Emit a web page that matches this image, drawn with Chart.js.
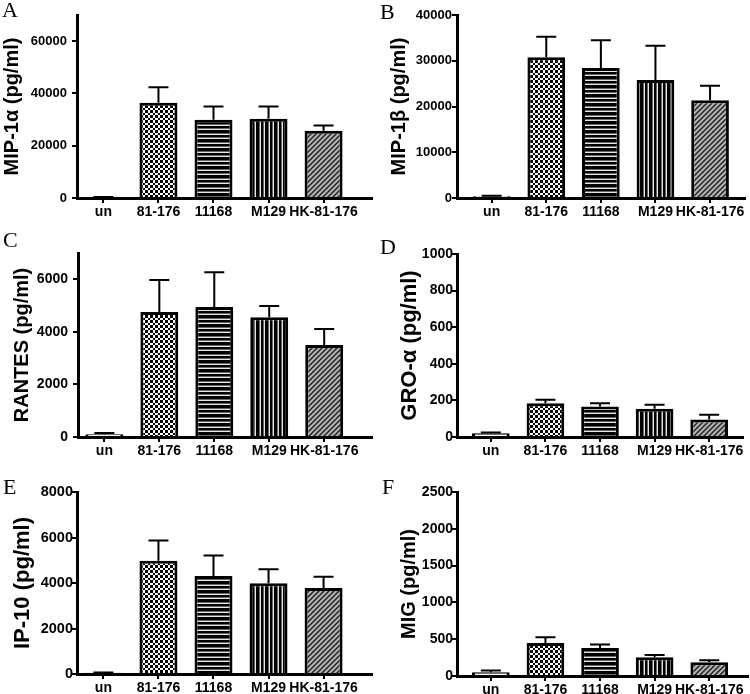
<!DOCTYPE html>
<html>
<head>
<meta charset="utf-8">
<script src="https://cdn.jsdelivr.net/npm/chart.js@4.4.0/dist/chart.umd.min.js"></script>
<style>
  html, body { margin: 0; padding: 0; background: #fff; }
  #fig { position: relative; width: 750px; height: 694px; overflow: hidden; }
  #fig canvas { position: absolute; }
  .letter { position: absolute; font-family: "Liberation Serif", "Times New Roman", serif; font-size: 22px; line-height: 1; color: #000; }
</style>
</head>
<body>
<div id="fig">
  <canvas id="cA"></canvas>
  <canvas id="cB"></canvas>
  <canvas id="cC"></canvas>
  <canvas id="cD"></canvas>
  <canvas id="cE"></canvas>
  <canvas id="cF"></canvas>
  <div class="letter" style="left:2px;top:-1px">A</div>
  <div class="letter" style="left:380px;top:1px">B</div>
  <div class="letter" style="left:3px;top:229px">C</div>
  <div class="letter" style="left:380px;top:236px">D</div>
  <div class="letter" style="left:3px;top:476px">E</div>
  <div class="letter" style="left:382px;top:476px">F</div>
</div>
<script>
// --- data (means and upper error, pg/ml) ---
const categories = ['un', '81-176', '11168', 'M129', 'HK-81-176'];

const mip1aMean = [300, 36450, 29960, 30340, 25750];
const mip1aErr  = [100, 5950, 5080, 4700, 2030];
const mip1aTicks = [0, 20000, 40000, 60000];

const mip1bMean = [400, 30740, 28400, 25770, 21390];
const mip1bErr  = [100, 4520, 6060, 7510, 3130];
const mip1bTicks = [0, 10000, 20000, 30000, 40000];

const rantesMean = [100, 4760, 4950, 4560, 3500];
const rantesErr  = [50, 1210, 1320, 420, 610];
const rantesTicks = [0, 2000, 4000, 6000];

const groaMean = [20, 185, 167, 155, 95];
const groaErr  = [5, 19, 18, 21, 27];
const groaTicks = [0, 200, 400, 600, 800, 1000];

const ip10Mean = [50, 4980, 4310, 3990, 3780];
const ip10Err  = [20, 890, 900, 610, 500];
const ip10Ticks = [0, 2000, 4000, 6000, 8000];

const migMean = [50, 450, 382, 255, 186];
const migErr  = [25, 77, 45, 31, 28];
const migTicks = [0, 500, 1000, 1500, 2000, 2500];

Chart.defaults.font.family = '"Liberation Sans", Arial, sans-serif';
Chart.defaults.color = '#000';

// --- fill patterns, one per strain ---
function makePattern(w, h, draw) {
    const c = document.createElement('canvas');
    c.width = w; c.height = h;
    const g = c.getContext('2d');
    draw(g);
    return g.createPattern(c, 'repeat');
}

const checker = makePattern(10, 10, g => {
    g.fillStyle = '#fff'; g.fillRect(0, 0, 10, 10);
    g.fillStyle = '#000';
    const edges = [0, 3, 5, 8, 10];
    for (let r = 0; r < 4; r++) {
        for (let c = 0; c < 4; c++) {
            if ((r + c) % 2 === 0) g.fillRect(edges[c], edges[r], edges[c + 1] - edges[c], edges[r + 1] - edges[r]);
        }
    }
});
const stripeRows = ['#000', '#000', '#666', '#e6e6e6', '#000', '#000', '#000', '#666', '#e6e6e6'];
const hStripes = makePattern(1, 9, g => {
    stripeRows.forEach((col, i) => { g.fillStyle = col; g.fillRect(0, i, 1, 1); });
});
const vStripes = makePattern(9, 1, g => {
    stripeRows.forEach((col, i) => { g.fillStyle = col; g.fillRect(i, 0, 1, 1); });
});
const diagonal = makePattern(5, 5, g => {
    g.fillStyle = '#b4b4b4'; g.fillRect(0, 0, 5, 5);
    g.strokeStyle = '#222'; g.lineWidth = 1.5;
    g.beginPath();
    g.moveTo(0, 5); g.lineTo(5, 0);
    g.moveTo(-1, 1); g.lineTo(1, -1);
    g.moveTo(4, 6); g.lineTo(6, 4);
    g.stroke();
});
const fills = ['#fff', checker, hStripes, vStripes, diagonal];

// error bars: upward only, with a cap
const errorBars = {
    id: 'errorBars',
    afterDatasetsDraw(chart) {
        const { ctx } = chart;
        const yScale = chart.scales.y;
        const ds = chart.data.datasets[0];
        const meta = chart.getDatasetMeta(0);
        ctx.save();
        ctx.strokeStyle = '#000';
        ctx.lineWidth = 2;
        meta.data.forEach((bar, i) => {
            const top = yScale.getPixelForValue(ds.data[i].y + ds.err[i]);
            ctx.beginPath();
            ctx.moveTo(bar.x, bar.y);
            ctx.lineTo(bar.x, top);
            ctx.moveTo(bar.x - 10, top);
            ctx.lineTo(bar.x + 10, top);
            ctx.stroke();
        });
        ctx.restore();
    }
};

function drawPanel(id, pos, title, means, errs, yTicks) {
    const canvas = document.getElementById(id);
    canvas.width = 375;
    canvas.height = pos.h;
    canvas.style.left = pos.left + 'px';
    canvas.style.top = pos.top + 'px';

    new Chart(canvas, {
        type: 'bar',
        data: {
            datasets: [{
                data: means.map((v, i) => ({ x: i, y: v })),
                err: errs,
                backgroundColor: fills,
                borderColor: '#000',
                borderWidth: 3,
                categoryPercentage: 1,
                barPercentage: 0.69
            }]
        },
        options: {
            responsive: false,
            animation: false,
            layout: { padding: { top: pos.plotTop, right: 375 - pos.axisEnd, left: 0, bottom: 0 } },
            plugins: { legend: { display: false }, tooltip: { enabled: false } },
            scales: {
                x: {
                    type: 'linear',
                    min: pos.xMin,
                    max: pos.xMax,
                    offset: false,
                    afterBuildTicks: s => { s.ticks = categories.map((c, i) => ({ value: i })); },
                    afterFit: s => { s.height = pos.h - pos.base; },
                    border: { display: true, color: '#000', width: 3 },
                    grid: { drawOnChartArea: false, offset: false, tickLength: 5, color: '#000', lineWidth: 2 },
                    ticks: {
                        autoSkip: false, maxRotation: 0, minRotation: 0, padding: 1,
                        font: { size: 14, weight: 'bold' },
                        callback: v => categories[v]
                    }
                },
                y: {
                    min: 0,
                    max: pos.yMax,
                    afterBuildTicks: s => { s.ticks = yTicks.map(v => ({ value: v })); },
                    afterFit: s => { s.width = pos.axisX; },
                    border: { display: true, color: '#000', width: 3 },
                    grid: { drawOnChartArea: false, tickLength: 5, color: '#000', lineWidth: 2 },
                    ticks: {
                        padding: pos.tickPad,
                        font: { size: pos.tickSize, weight: 'bold' },
                        callback: v => String(v)
                    },
                    title: {
                        display: true,
                        text: title,
                        font: { size: pos.titleSize, weight: 'bold' },
                        padding: { top: pos.titleOff, bottom: 0 }
                    }
                }
            }
        },
        plugins: [errorBars]
    });
}

drawPanel('cA', { left: 0, top: 0, h: 232, axisX: 77, plotTop: 15, base: 198, axisEnd: 372, xMin: -0.48, xMax: 4.88, yMax: 70000, tickPad: 5, tickSize: 13, titleSize: 20, titleOff: 0 },
    'MIP-1α (pg/ml)', mip1aMean, mip1aErr, mip1aTicks);
drawPanel('cB', { left: 375, top: 0, h: 232, axisX: 82, plotTop: 15, base: 198, axisEnd: 370, xMin: -0.635, xMax: 4.64, yMax: 40000, tickPad: 0, tickSize: 13, titleSize: 20, titleOff: 12 },
    'MIP-1β (pg/ml)', mip1bMean, mip1bErr, mip1bTicks);
drawPanel('cC', { left: 0, top: 230, h: 240, axisX: 78, plotTop: 23, base: 207, axisEnd: 372, xMin: -0.48, xMax: 4.87, yMax: 7000, tickPad: 5, tickSize: 14, titleSize: 20, titleOff: 10 },
    'RANTES (pg/ml)', rantesMean, rantesErr, rantesTicks);
drawPanel('cD', { left: 375, top: 230, h: 240, axisX: 82, plotTop: 24, base: 207, axisEnd: 368, xMin: -0.62, xMax: 4.62, yMax: 1000, tickPad: -1, tickSize: 14, titleSize: 22, titleOff: 22 },
    'GRO-α (pg/ml)', groaMean, groaErr, groaTicks);
drawPanel('cE', { left: 0, top: 460, h: 234, axisX: 77, plotTop: 32, base: 214, axisEnd: 372, xMin: -0.48, xMax: 4.88, yMax: 8000, tickPad: -1, tickSize: 14.5, titleSize: 22, titleOff: 10 },
    'IP-10 (pg/ml)', ip10Mean, ip10Err, ip10Ticks);
drawPanel('cF', { left: 375, top: 460, h: 234, axisX: 82, plotTop: 32, base: 216, axisEnd: 373, xMin: -0.62, xMax: 4.71, yMax: 2500, tickPad: -1, tickSize: 14, titleSize: 20, titleOff: 22 },
    'MIG (pg/ml)', migMean, migErr, migTicks);
</script>
</body>
</html>
